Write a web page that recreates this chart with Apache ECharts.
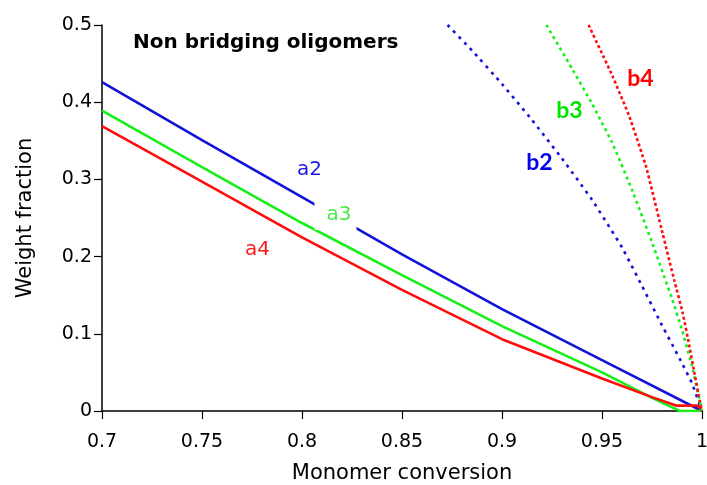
<!DOCTYPE html>
<html><head><meta charset="utf-8">
<script src="https://cdn.jsdelivr.net/npm/echarts@6/dist/echarts.min.js"></script>
<style>html,body{margin:0;padding:0;background:#fff;overflow:hidden}#c{width:707px;height:485px}</style>
</head><body><div id="c"></div>
<script>
// ---- data ----
const xTickLabels = ['0.7','0.75','0.8','0.85','0.9','0.95','1'];
const yTickLabels = ['0','0.1','0.2','0.3','0.4','0.5'];

// solid curves (non bridging, a-series)
const a2X = [0.7, 0.75, 0.8, 0.85, 0.9, 0.95, 1.0];
const a2Y = [0.426, 0.351, 0.277, 0.203, 0.132, 0.066, 0];
const a3X = [0.7, 0.75, 0.8, 0.85, 0.9, 0.95, 0.975, 0.989, 1.0];
const a3Y = [0.389, 0.316, 0.2435, 0.176, 0.11, 0.050, 0.017, 0.0, 0.0];
const a4X = [0.7, 0.75, 0.8, 0.85, 0.9, 0.95, 0.975, 0.987, 0.998, 1.0];
const a4Y = [0.369, 0.297, 0.225, 0.157, 0.093, 0.042, 0.018, 0.007, 0.007, 0];

// dotted curves (b-series)
const b2X = [0.8728, 0.885, 0.9, 0.915, 0.93, 0.945, 0.96, 0.97, 0.98, 0.99, 0.995, 1.0];
const b2Y = [0.5, 0.467, 0.4236, 0.377, 0.327, 0.2737, 0.212, 0.162, 0.111, 0.062, 0.036, 0];
const b3X = [0.9222, 0.935, 0.945, 0.955, 0.965, 0.975, 0.985, 0.99, 0.995, 1.0];
const b3Y = [0.5, 0.4435, 0.398, 0.348, 0.2865, 0.2185, 0.1455, 0.105, 0.058, 0];
const b4X = [0.9433, 0.9554, 0.96375, 0.9721, 0.9804, 0.98625, 0.9904, 0.99375, 0.99625, 0.99875, 1.0];
const b4Y = [0.5, 0.433, 0.381, 0.316, 0.229, 0.168, 0.1266, 0.0833, 0.0488, 0.0142, 0];

// curve labels (anchor in data coordinates)
const labelText = ['a2', 'a3', 'a4', 'b2', 'b3', 'b4'];
const labelX = [0.80375, 0.81675, 0.77775, 0.91875, 0.93375, 0.96925];
const labelY = [0.3122, 0.2539, 0.2085, 0.3212, 0.3886, 0.430];

const titleText = 'Non bridging oligomers';
const xName = 'Monomer conversion';
const yName = 'Weight fraction';

// ---- styling ----
const BLUE = '#1212d8', GREEN = '#18ee18', RED = '#ff0c0c';
const zip = (xs, ys) => xs.map((x, i) => [x, ys[i]]);
const nearest = (arr) => (v) => {
  let best = arr[0], d = Infinity;
  arr.forEach(s => { const dd = Math.abs(parseFloat(s) - v); if (dd < d) { d = dd; best = s; } });
  return best;
};

const solid = (name, xs, ys, color) => ({
  name, type: 'line', data: zip(xs, ys), showSymbol: false, symbol: 'none',
  lineStyle: { color, width: 2.6 }, z: 3, silent: true
});
const dotted = (name, xs, ys, color, dash) => ({
  name, type: 'line', data: zip(xs, ys), showSymbol: false, symbol: 'none', smooth: 0.1,
  lineStyle: { color, width: 2.6, type: dash }, z: 3, silent: true
});

const labelStyles = [
  { color: '#1a1ae6', fontFamily: 'DejaVu Sans', fontSize: 20 },
  { color: '#4be84b', fontFamily: 'DejaVu Sans', fontSize: 20, lineHeight: 20, backgroundColor: '#ffffff', padding: [1, 5, 9, 12] },
  { color: '#ff1a1a', fontFamily: 'DejaVu Sans', fontSize: 20 },
  { color: '#0000ee', fontFamily: 'Lato', fontWeight: 'bold', fontSize: 23 },
  { color: '#00e600', fontFamily: 'Lato', fontWeight: 'bold', fontSize: 23 },
  { color: '#ff0000', fontFamily: 'Lato', fontWeight: 'bold', fontSize: 23 }
];

const chart = echarts.init(document.getElementById('c'), null, { renderer: 'canvas' });
chart.setOption({
  animation: false,
  backgroundColor: '#fff',
  textStyle: { fontFamily: 'DejaVu Sans', color: '#000' },
  title: {
    text: titleText, left: 133, top: 33, padding: 0,
    textStyle: { fontFamily: 'DejaVu Sans', fontWeight: 'bold', fontSize: 20, color: '#000' }
  },
  grid: { left: 102, right: 5, top: 25, bottom: 74, containLabel: false, outerBoundsMode: 'none' },
  xAxis: {
    type: 'value', min: 0.7, max: 1.0, interval: 0.05,
    name: xName, nameLocation: 'middle', nameGap: 52,
    nameTextStyle: { fontFamily: 'DejaVu Sans', fontSize: 21, color: '#000' },
    axisLine: { show: true, onZero: false, lineStyle: { color: '#000', width: 1.5 } },
    axisTick: { show: true, length: 8, lineStyle: { color: '#000', width: 1.2 } },
    axisLabel: { formatter: nearest(xTickLabels), fontSize: 19, color: '#000', margin: 22, fontFamily: 'DejaVu Sans' },
    splitLine: { show: false }
  },
  yAxis: {
    type: 'value', min: 0, max: 0.5, interval: 0.1,
    name: yName, nameLocation: 'middle', nameGap: 66, nameRotate: 90,
    nameTextStyle: { fontFamily: 'DejaVu Sans', fontSize: 21, color: '#000' },
    axisLine: { show: true, lineStyle: { color: '#000', width: 1.5 } },
    axisTick: { show: true, length: 8, lineStyle: { color: '#000', width: 1.2 } },
    axisLabel: { formatter: nearest(yTickLabels), fontSize: 19, color: '#000', margin: 10, fontFamily: 'DejaVu Sans' },
    splitLine: { show: false }
  },
  series: [
    solid('a2', a2X, a2Y, BLUE),
    solid('a3', a3X, a3Y, GREEN),
    solid('a4', a4X, a4Y, RED),
    dotted('b2', b2X, b2Y, BLUE, [3, 5]),
    dotted('b3', b3X, b3Y, GREEN, [3, 3.6]),
    dotted('b4', b4X, b4Y, RED, [3, 2.6]),
    {
      name: 'labels', type: 'scatter', z: 10, silent: true,
      symbolSize: 1, itemStyle: { color: 'rgba(0,0,0,0)', opacity: 1 },
      data: labelText.map((t, i) => ({
        value: [labelX[i], labelY[i]], name: t,
        label: Object.assign({ show: true, position: 'inside', formatter: t, opacity: 1, textBorderWidth: 0 }, labelStyles[i])
      }))
    }
  ]
});
</script>
</body></html>
